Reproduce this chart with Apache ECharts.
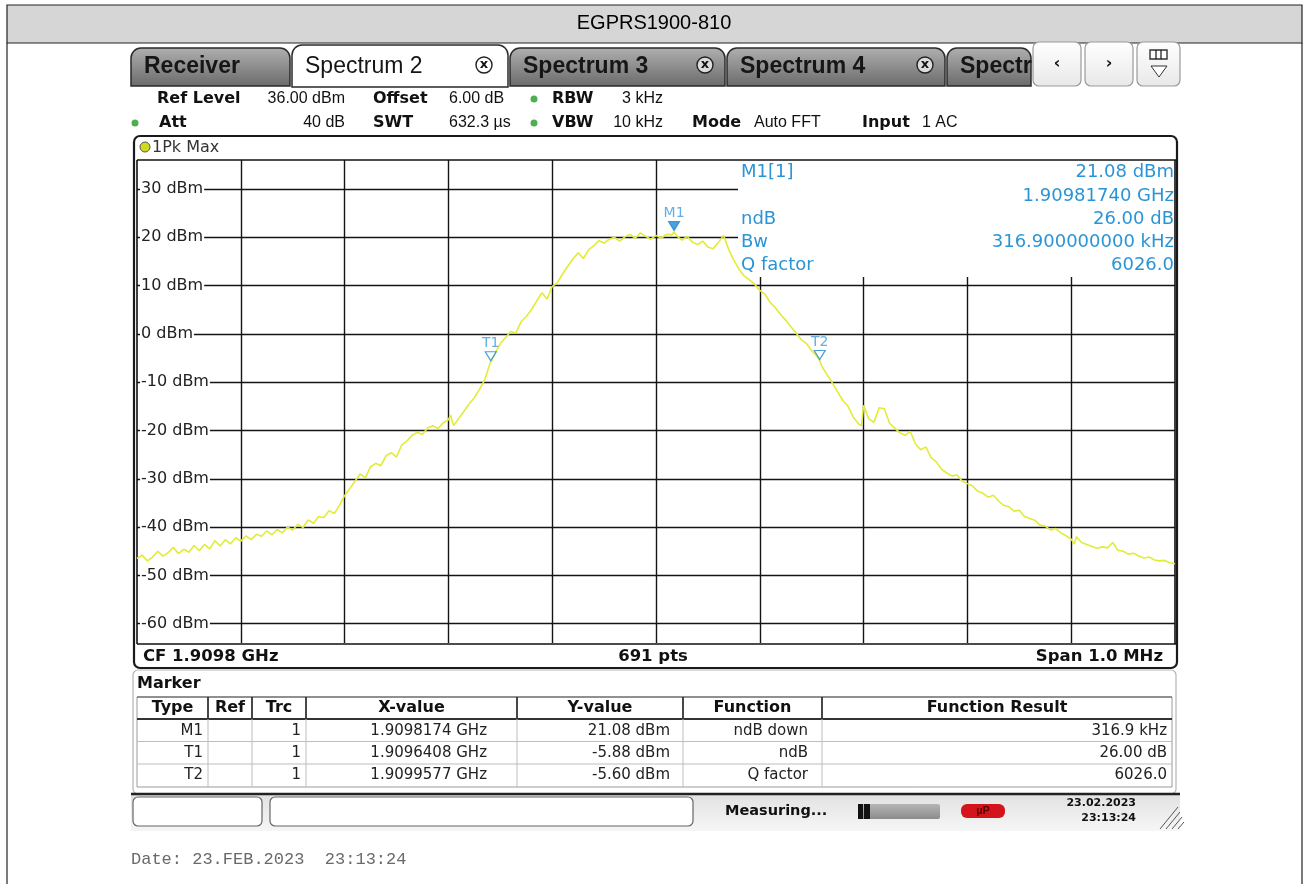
<!DOCTYPE html>
<html><head><meta charset="utf-8">
<script src="https://cdn.jsdelivr.net/npm/echarts@6/dist/echarts.min.js"></script>
<style>html,body{margin:0;padding:0;background:#fff}#c{width:1309px;height:884px}</style>
</head><body><div id="c"></div><script>
// ---------------- data ----------------
const chartTitle = 'EGPRS1900-810';
const cfGHz = 1.9098;
const refLevel = 36, bottomLevel = -64;
const yTicks = [30, 20, 10, 0, -10, -20, -30, -40, -50, -60];
const xTicks = [-400, -300, -200, -100, 0, 100, 200, 300, 400];
// trace: frequency offset from CF in kHz, level in dBm
const traceKHz = [
 -500,-495,-490,-485,-480,-475,-470,-465,-460,-455,
 -450,-445,-440,-435,-430,-425,-420,-415,-410,-405,
 -400,-395,-390,-385,-380,-375,-370,-365,-360,-355,
 -350,-345,-340,-335,-330,-325,-320,-315,-310,-305,
 -300,-295,-290,-285,-280,-275,-270,-265,-260,-255,
 -250,-245,-240,-235,-230,-225,-220,-215,-210,-205,
 -200,-198,-195,-190,-185,-180,-175,-170,-165,-160,
 -155,-150,-145,-140,-135,-130,-125,-120,-115,-110,
 -105,-100,-95,-90,-85,-80,-75,-70,-65,-60,
 -55,-50,-45,-40,-35,-30,-25,-20,-15,-10,
 -5,0,5,10,15,17.4,20,25,30,35,
 40,45,50,55,60,65,70,75,80,85,
 90,95,100,105,110,115,120,125,130,135,
 140,145,150,155,157.7,160,165,170,175,180,
 185,190,195,198,200,205,210,215,220,225,
 230,235,240,245,250,255,260,265,270,275,
 280,285,290,295,300,305,310,315,320,325,
 330,335,340,345,350,355,360,365,370,375,
 380,385,390,395,400,403,405,410,415,420,
 425,430,435,440,445,450,455,460,465,470,
 475,480,485,490,495,500];
const traceDbm = [
 -46.5,-45.8,-47.0,-46.2,-45.0,-46.0,-45.3,-44.2,-45.5,-44.6,
 -45.2,-43.8,-44.9,-43.6,-44.5,-42.8,-43.9,-42.6,-43.5,-42.2,
 -42.9,-41.8,-42.6,-41.5,-41.9,-40.8,-41.6,-40.5,-41.2,-40.0,
 -40.6,-39.4,-40.1,-38.5,-39.2,-37.8,-38.0,-36.6,-37.2,-35.5,
 -33.5,-32.0,-30.5,-29.0,-29.8,-27.5,-26.8,-27.3,-25.2,-24.6,
 -25.5,-23.0,-22.2,-21.0,-20.4,-20.8,-19.5,-19.0,-19.6,-18.4,
 -17.8,-16.8,-19.0,-17.5,-16.0,-14.5,-13.2,-11.5,-9.5,-6.2,
 -4.0,-2.0,-0.8,0.5,0.2,2.5,3.6,5.0,6.8,8.5,
 7.2,9.8,10.6,12.4,14.0,15.5,16.8,15.6,17.4,18.2,
 19.3,18.8,19.6,20.0,19.2,20.1,20.6,19.8,20.9,20.2,
 19.6,20.4,19.8,20.6,20.5,21.08,20.3,19.4,20.2,19.0,
 18.5,19.2,18.0,17.6,18.9,20.4,17.5,15.2,13.4,12.0,
 11.2,10.3,9.0,8.2,6.5,5.4,4.0,2.8,1.5,0.2,
 -1.2,-2.0,-3.5,-4.6,-5.60,-6.8,-8.5,-10.2,-12.0,-13.8,
 -15.0,-17.2,-18.6,-19.0,-14.8,-17.6,-18.3,-15.3,-15.5,-18.5,
 -19.5,-20.5,-21.0,-20.2,-22.8,-24.0,-23.4,-25.6,-26.5,-28.0,
 -28.8,-29.4,-29.2,-30.5,-31.0,-31.5,-32.6,-33.0,-33.8,-33.4,
 -34.6,-35.5,-35.8,-36.7,-36.5,-37.8,-38.2,-38.6,-39.6,-39.8,
 -40.6,-40.3,-41.2,-41.8,-42.5,-43.5,-42.0,-43.2,-43.6,-44.0,
 -44.4,-44.1,-44.3,-43.2,-44.8,-45.0,-45.6,-45.4,-46.0,-46.4,
 -46.2,-46.8,-47.0,-46.9,-47.4,-47.6];
// markers
const markerNames = ['M1', 'T1', 'T2'];
const markerTrace = [1, 1, 1];
const markerFreqGHz = [1.9098174, 1.9096408, 1.9099577];
const markerLevel = [21.08, -5.88, -5.60];
const markerFunction = ['ndB down', 'ndB', 'Q factor'];
const markerResult = ['316.9 kHz', '26.00 dB', '6026.0'];
// marker info box
const infoLabels = ['M1[1]', '', 'ndB', 'Bw', 'Q factor'];
const infoValues = ['21.08 dBm', '1.90981740 GHz', '26.00 dB', '316.900000000 kHz', '6026.0'];
// settings header
const hdrRow1 = [['Ref Level', '36.00 dBm'], ['Offset', '6.00 dB'], ['RBW', '3 kHz']];
const hdrRow2 = [['Att', '40 dB'], ['SWT', '632.3 \u00b5s'], ['VBW', '10 kHz'], ['Mode', 'Auto FFT'], ['Input', '1 AC']];
const tabNames = ['Receiver', 'Spectrum 2', 'Spectrum 3', 'Spectrum 4', 'Spectr'];
const tableHeaders = ['Type', 'Ref', 'Trc', 'X-value', 'Y-value', 'Function', 'Function Result'];

// ---------------- layout ----------------
const G = {left: 137, top: 160, width: 1038, height: 483};
const boxLeftKHz = 79, boxBottomDb = 11.8;  // extent of the marker info box (grid is hidden behind it)
const F = 'DejaVu Sans';
const LS = 'Liberation Sans';
const BLUE = '#2a95d6';
const chart = echarts.init(document.getElementById('c'), null, {renderer: 'canvas'});
const zz = (o, d) => (o.z !== undefined ? o.z : d);

const g = [];
function T(x, y, text, o) {
  o = o || {};
  g.push({type: 'text', z: zz(o, 10), x: x, y: y, silent: true, style: {
    text: text, fill: o.color || '#111', font: (o.bold ? 'bold ' : '') + (o.size || 14) + 'px ' + (o.font || F),
    textAlign: o.align || 'left', textVerticalAlign: 'middle', verticalAlign: 'middle'}});
}
function R(x, y, w, h, o) {
  o = o || {};
  g.push({type: 'rect', z: zz(o, 5), silent: true, shape: {x: x, y: y, width: w, height: h, r: o.r || 0},
    style: {fill: o.fill === undefined ? '#fff' : o.fill, stroke: o.stroke || null, lineWidth: o.lw || 1}});
}
function L(x1, y1, x2, y2, o) {
  o = o || {};
  g.push({type: 'line', z: zz(o, 6), silent: true, shape: {x1: x1, y1: y1, x2: x2, y2: y2},
    style: {stroke: o.color || '#111', lineWidth: o.lw || 1}});
}
function C(cx, cy, r, o) {
  o = o || {};
  g.push({type: 'circle', z: zz(o, 8), silent: true, shape: {cx: cx, cy: cy, r: r},
    style: {fill: o.fill || '#fff', stroke: o.stroke || null, lineWidth: o.lw || 1}});
}
const grad = (a, b) => new echarts.graphic.LinearGradient(0, 0, 0, 1, [{offset: 0, color: a}, {offset: 1, color: b}]);

// title band
R(7, 5, 1295, 38, {fill: '#d6d6d6', stroke: '#222', lw: 1.2, z: 2});
T(654, 23, chartTitle, {size: 20, font: LS, color: '#000', align: 'center'});
L(7, 43, 7, 884, {lw: 1.2, color: '#222'});
L(1302, 43, 1302, 884, {lw: 1.2, color: '#222'});

// tabs
const tabX = [131, 292, 510, 727, 947, 1033];
tabNames.forEach((n, i) => {
  const active = i === 1;
  const x0 = tabX[i], x1 = tabX[i + 1];
  R(x0, active ? 45 : 48, x1 - x0 - 2, active ? 42 : 38, {fill: active ? '#fff' : grad('#b0b0b0', '#6a6a6a'), stroke: '#2a2a2a', lw: 1.5, r: [10, 10, 0, 0], z: active ? 6 : 5});
  T(x0 + 13, 67, n, {size: 23, font: LS, color: '#161616', bold: !active});
  if (i >= 1 && i <= 3) {
    const cx = [0, 484, 705, 925][i];
    C(cx, 65, 8, {fill: active ? '#fff' : '#dcdcdc', stroke: '#222', lw: 1.4, z: 9});
    T(cx, 65, 'x', {size: 13, bold: true, align: 'center', z: 10});
  }
});
// nav buttons
[[1033, 1081, '\u2039'], [1085, 1133, '\u203a'], [1137, 1180, '']].forEach(b => {
  R(b[0], 42, b[1] - b[0], 44, {fill: grad('#ffffff', '#e8e8e8'), stroke: '#9a9a9a', lw: 1.2, r: 6, z: 7});
  if (b[2]) T((b[0] + b[1]) / 2, 64, b[2], {size: 16, bold: true, align: 'center', z: 9});
});
R(1150, 50, 17, 9, {fill: '#fff', stroke: '#333', lw: 1.4, z: 9});
L(1156, 50, 1156, 59, {lw: 1.2, z: 10}); L(1161, 50, 1161, 59, {lw: 1.2, z: 10});
g.push({type: 'polygon', z: 9, silent: true, shape: {points: [[1151, 66], [1167, 66], [1159, 77]]}, style: {fill: '#fff', stroke: '#333', lw: 1.2}});

// settings header (label x, value anchor, value align)
const hdrPos1 = [[157, 345, 'right'], [373, 449, 'left'], [552, 663, 'right']];
hdrRow1.forEach((p, i) => { T(hdrPos1[i][0], 99, p[0], {bold: true, size: 16}); T(hdrPos1[i][1], 99, p[1], {size: 16, font: LS, align: hdrPos1[i][2]}); });
const hdrPos2 = [[159, 345, 'right'], [373, 449, 'left'], [552, 663, 'right'], [692, 754, 'left'], [862, 922, 'left']];
hdrRow2.forEach((p, i) => { T(hdrPos2[i][0], 123, p[0], {bold: true, size: 16}); T(hdrPos2[i][1], 123, p[1], {size: 16, font: LS, align: hdrPos2[i][2]}); });
C(534, 99, 3.5, {fill: '#4caf50'}); C(534, 123, 3.5, {fill: '#4caf50'}); C(135, 123, 3.5, {fill: '#4caf50'});

// plot panel (behind the series)
R(134, 136, 1043, 532, {fill: '#fff', stroke: '#1a1a1a', lw: 2.2, r: 6, z: 0});
C(145, 147, 5, {fill: '#cfdc1c', stroke: '#555', lw: 1});
T(152, 148, '1Pk Max', {size: 16, color: '#333'});
L(137, 160, 1176, 160, {lw: 1.6, z: 7});
L(137, 644, 1176, 644, {lw: 1.6, z: 7});
L(137, 160, 137, 644, {lw: 1.6, z: 7});
L(1175, 160, 1175, 644, {lw: 1.6, z: 7});
T(143, 657, 'CF ' + cfGHz.toFixed(4) + ' GHz', {bold: true, size: 16.5});
T(653, 657, '691 pts', {bold: true, size: 16.5, align: 'center'});
T(1163, 657, 'Span 1.0 MHz', {bold: true, size: 16.5, align: 'right'});

// marker info box text
const infoY = [172, 196, 219, 242, 265];
infoLabels.forEach((s, i) => { if (s) T(741, infoY[i], s, {size: 18, color: BLUE, z: 12}); });
infoValues.forEach((s, i) => T(1174, infoY[i], s, {size: 18, color: BLUE, align: 'right', z: 12}));

// marker table
R(133, 670, 1043, 124, {fill: '#fff', stroke: '#b5b5b5', lw: 1.2, r: 5, z: 1});
T(137, 684, 'Marker', {bold: true, size: 16});
const colE = [137, 208, 252, 306, 517, 683, 822, 1172];
const colPad = [5, 5, 5, 30, 13, 14, 5];
R(137, 697, 1035, 90, {fill: '#fff', stroke: '#9a9a9a', lw: 1, z: 3});
L(137, 719, 1172, 719, {lw: 1.8, color: '#333'});
L(137, 697, 1172, 697, {lw: 1.2, color: '#555'});
for (let r = 1; r < 3; r++) L(137, 719 + r * 22.5, 1172, 719 + r * 22.5, {lw: 1, color: '#bdbdbd'});
colE.slice(1, -1).forEach(x => { L(x, 697, x, 719, {lw: 1.8, color: '#333'}); L(x, 719, x, 787, {lw: 1, color: '#bdbdbd'}); });
tableHeaders.forEach((h, i) => T((colE[i] + colE[i + 1]) / 2, 708, h, {bold: true, size: 16, align: 'center'}));
markerNames.forEach((n, r) => {
  const y = 731 + r * 22.3;
  const cells = [n, '', String(markerTrace[r]), markerFreqGHz[r].toFixed(7) + ' GHz', markerLevel[r].toFixed(2) + ' dBm', markerFunction[r], markerResult[r]];
  cells.forEach((c, i) => { if (c) T(colE[i + 1] - colPad[i], y, c, {size: 15, align: 'right', color: '#222'}); });
});

// status bar
L(131, 794, 1180, 794, {lw: 2.5, color: '#222'});
R(131, 795, 1049, 36, {fill: grad('#e2e2e2', '#f6f6f6'), z: 2});
R(133, 797, 129, 29, {fill: '#fff', stroke: '#666', lw: 1.2, r: 5, z: 4});
R(270, 797, 423, 29, {fill: '#fff', stroke: '#666', lw: 1.2, r: 5, z: 4});
T(725, 811, 'Measuring...', {bold: true, size: 14.5});
R(858, 804, 82, 15, {fill: grad('#b5b5b5', '#8c8c8c'), r: 2, z: 4});
R(858, 804, 5, 15, {fill: '#111', z: 5}); R(864, 804, 6, 15, {fill: '#111', z: 5});
R(961, 804, 44, 14, {fill: '#d4141c', r: 6, z: 4});
T(983, 811, 'µP', {size: 11, bold: true, color: '#5a0000', align: 'center', font: LS});
T(1136, 803, '23.02.2023', {size: 11, bold: true, align: 'right'});
T(1136, 818, '23:13:24', {size: 11, bold: true, align: 'right'});
for (let k = 0; k < 4; k++) L(1160 + k * 6, 829, 1178 + k * 2, 807 + k * 5, {lw: 1, color: '#555'});
T(131, 859, 'Date: 23.FEB.2023  23:13:24', {size: 17, font: 'Liberation Mono', color: '#6a6a6a'});

// ---------------- series ----------------
const gridLines = [];
yTicks.forEach(v => gridLines.push([{coord: [-500, v]}, {coord: [v > boxBottomDb ? boxLeftKHz : 500, v]}]));
xTicks.forEach(v => gridLines.push([{coord: [v, bottomLevel]}, {coord: [v, v > boxLeftKHz ? boxBottomDb : refLevel]}]));
const traceData = traceKHz.map((x, i) => [x, traceDbm[i]]);
const markerData = markerNames.map((n, i) => ({
  name: n, value: [Math.round((markerFreqGHz[i] - cfGHz) * 1e7) / 10, markerLevel[i]],
  itemStyle: {color: i === 0 ? '#1f8ad2' : 'rgba(255,255,255,0.6)', borderColor: '#1f8ad2', borderWidth: 1.2}
}));

chart.setOption({
  animation: false,
  backgroundColor: '#fff',
  grid: G,
  xAxis: {type: 'value', min: -500, max: 500, interval: 100, axisLine: {show: false}, axisTick: {show: false}, axisLabel: {show: false}, splitLine: {show: false}},
  yAxis: {type: 'value', min: bottomLevel, max: refLevel, axisLine: {show: false}, axisTick: {show: false}, axisLabel: {show: false}, splitLine: {show: false}},
  graphic: {elements: g},
  series: [
    {type: 'line', name: 'grid', data: [], z: 3, silent: true,
     markLine: {silent: true, z: 3, symbol: 'none', animation: false, label: {show: false},
       lineStyle: {color: '#141414', width: 1.4, type: 'solid'}, emphasis: {disabled: true}, data: gridLines}},
    {type: 'custom', name: 'ylabels', z: 6, silent: true, clip: false,
     data: yTicks.map(v => [-500, v]),
     encode: {x: 0, y: 1},
     renderItem: (params, api) => {
       const p = api.coord([api.value(0), api.value(1)]);
       return {type: 'text', x: p[0] + 3, y: p[1], style: {
         text: api.value(1) + ' dBm', fill: '#222', font: '16px ' + F,
         textAlign: 'left', textVerticalAlign: 'middle', verticalAlign: 'middle',
         backgroundColor: '#fff', padding: [1, 1, 1, 1]}};
     }},
    {type: 'line', name: '1Pk Max', z: 7, data: traceData, showSymbol: false, silent: true,
     lineStyle: {color: '#e2ec36', width: 1.6}},
    {type: 'scatter', name: 'markers', z: 8, silent: true, clip: false, data: markerData,
     symbol: 'triangle', symbolRotate: 180, symbolSize: [11, 9], symbolOffset: [0, -6],
     label: {show: true, position: 'top', distance: 1, formatter: '{b}', color: '#3d9ad9', fontFamily: F, fontSize: 14}}
  ]
});
</script></body></html>
